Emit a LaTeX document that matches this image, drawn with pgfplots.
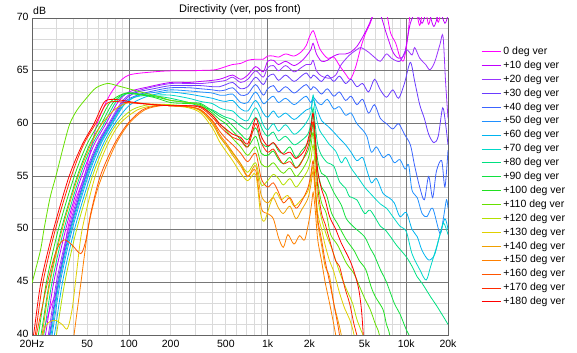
\documentclass[border=0pt]{standalone}
\usepackage{fontspec}
\setmainfont{Liberation Sans}
\usepackage{pgfplots}
\pgfplotsset{compat=1.18}
\definecolor{c0}{HTML}{FF00FF}
\definecolor{c10}{HTML}{C000FF}
\definecolor{c20}{HTML}{9933FF}
\definecolor{c30}{HTML}{6A3CFF}
\definecolor{c40}{HTML}{3C64FF}
\definecolor{c50}{HTML}{2090FF}
\definecolor{c60}{HTML}{00B4F0}
\definecolor{c70}{HTML}{00D8C8}
\definecolor{c80}{HTML}{00E080}
\definecolor{c90}{HTML}{10E040}
\definecolor{c100}{HTML}{20E020}
\definecolor{c110}{HTML}{66E000}
\definecolor{c120}{HTML}{B4E000}
\definecolor{c130}{HTML}{E0D000}
\definecolor{c140}{HTML}{F0A000}
\definecolor{c150}{HTML}{FF8000}
\definecolor{c160}{HTML}{FF5500}
\definecolor{c170}{HTML}{FF2A00}
\definecolor{c180}{HTML}{FF0000}
\definecolor{gmaj}{HTML}{787878}
\definecolor{gmin}{HTML}{DADADA}
\definecolor{frame}{HTML}{646464}
\begin{document}
\begin{tikzpicture}
\begin{axis}[
  scale only axis, width=416bp, height=317bp,
  xmode=log, xmin=20, xmax=20000, ymin=40, ymax=70,
  xtick={20,50,100,200,500,1000,2000,5000,10000,20000},
  xticklabels={20Hz,50,100,200,500,1k,2k,5k,10k,20k},
  minor xtick={30,40,50,60,70,80,90,200,300,400,500,600,700,800,900,2000,3000,4000,5000,6000,7000,8000,9000},
  xminorgrids=true, xmajorgrids=false,
  extra x ticks={100,1000,10000}, extra x tick labels={},
  extra x tick style={xmajorgrids=true, major tick length=0pt},
  ytick={40,45,50,55,60,65,70},
  minor ytick={41,42,43,44,46,47,48,49,51,52,53,54,56,57,58,59,61,62,63,64,66,67,68,69},
  ymajorgrids=true, yminorgrids=true,
  major grid style={color=gmaj, line width=0.8bp},
  minor grid style={color=gmin, line width=0.8bp},
  major tick length=0pt, minor tick length=0pt,
  axis line style={color=frame, line width=0.8bp},
  tick label style={font=\fontsize{10.5bp}{12bp}\selectfont, text=black},
  xticklabel style={yshift=-1.5bp},
  yticklabel style={yshift=1bp},
  /pgf/number format/assume math mode=true,
  legend cell align=left,
  legend image code/.code={\draw[#1] (0bp,0bp) -- (19bp,0bp);},
  legend style={draw=none, fill=none, at={(1,1)}, anchor=north west, xshift=30bp, yshift=-26.5bp,
    font=\fontsize{10.5bp}{12bp}\selectfont, row sep=3.9bp,
    nodes={inner ysep=0pt, inner xsep=2.5bp, text height=7.8bp, text depth=2.2bp}},
  crv/.style={line width=0.8bp, smooth, tension=0.5},
]
\addplot[c0, crv] coordinates {(20,35.5) (23.8,40) (27.5,42.8) (31.4,45) (36.1,50) (41,52.7) (47.6,55) (53,57.5) (59,60) (70,62.3) (82,63.7) (100,64.6) (150,64.9) (200,65.0) (270,65.0) (350,65.05) (420,65.1) (500,65.4) (560,65.6) (640,65.7) (720,66.0) (820,66.1) (930,66.1) (1000,66.4) (1100,66.4) (1200,66.3) (1350,66.6) (1550,66.4) (1750,66.8) (1900,67.4) (2000,68.2) (2130,68.8) (2250,68.0) (2400,67.0) (2700,66.2) (3000,66.3) (3300,65.5) (3650,64.7) (3950,64.2) (4300,65.3) (4700,67.2) (5100,68.6) (5500,69.5) (6000,71) (6500,72) (7200,70.5) (7700,68.6) (8400,67.6) (9000,66.3) (9600,66.0) (10200,68) (10700,70.5) (11500,71.5) (12500,69.3) (13500,71.5) (14500,69.4) (15800,71.5) (17000,69.6) (18500,71.5) (20000,70.5)};
\addplot[c10, crv] coordinates {(21.7,36) (25,40) (28.7,45) (35,50) (40,52.7) (45.5,55) (56,58) (68.3,60) (83,62.0) (100,63.0) (140,63.5) (200,63.9) (270,63.9) (330,64.0) (400,64.1) (450,64.2) (500,64.4) (560,64.6) (640,64.2) (720,64.6) (820,65.4) (930,64.9) (1000,65.9) (1100,66.0) (1200,65.6) (1350,65.9) (1550,65.5) (1750,65.9) (1900,66.4) (2050,67.0) (2130,67.6) (2250,66.6) (2450,65.9) (2700,66.0) (3000,66.4) (3300,66.6) (3650,66.6) (4000,66.8) (4400,67.3) (4850,68.2) (5350,69.3) (5900,70.5) (6500,70.3) (7200,68.5) (8000,66.8) (8800,66.2) (9700,66.6) (10700,69.5) (11800,70.5) (13000,69.5) (14300,70.8) (15800,69.2) (17400,70.6) (19000,69.5) (20000,70.3)};
\addplot[c20, crv] coordinates {(22.7,36) (26.2,40) (30,45) (36.6,50) (47.6,55) (58.6,58) (71.4,60) (88,62.0) (105,62.9) (140,63.4) (200,63.8) (270,63.8) (330,63.8) (400,63.9) (450,64.0) (500,64.1) (560,64.4) (640,63.9) (720,64.2) (820,65.0) (930,64.4) (1000,65.3) (1100,65.5) (1200,65.0) (1350,65.5) (1550,64.9) (1750,65.3) (1900,65.6) (2050,65.6) (2130,66.0) (2250,65.0) (2450,64.5) (2800,64.3) (3100,64.6) (3400,65.6) (3900,66.5) (4400,67.0) (4700,67.2) (5300,66.8) (6000,66.2) (6500,65.9) (7200,66.6) (7800,66.2) (9000,65.9) (10000,67.0) (11000,66.5) (11500,67.2) (12500,66.2) (13800,65.6) (14800,65.1) (16000,65.8) (17500,67.5) (18400,68.3) (19200,64.0) (20000,60.5)};
\addplot[c30, crv] coordinates {(23.1,36) (26.7,40) (30.6,45) (37.3,50) (48.5,55) (59.7,58) (72.7,60) (90,62.0) (110,62.9) (150,63.3) (200,63.6) (270,63.6) (330,63.6) (400,63.5) (450,63.5) (500,63.7) (560,63.9) (640,63.3) (720,63.5) (820,64.4) (930,63.7) (1000,64.4) (1100,64.7) (1200,64.1) (1350,64.6) (1550,64.0) (1750,64.5) (1900,64.8) (2050,64.3) (2130,64.6) (2250,64.4) (2450,64.0) (2700,64.6) (3000,64.0) (3300,64.5) (3650,63.8) (4000,64.2) (4400,63.5) (4850,63.8) (5350,63.0) (5900,64.2) (6500,63.2) (7200,62.5) (8000,63.2) (8800,62.4) (9700,63.8) (10700,65.8) (11500,64.0) (12500,61.8) (13500,60.5) (14500,59.0) (15800,58.2) (17000,58.8) (18300,61.5) (19200,60.0) (20000,58.0)};
\addplot[c40, crv] coordinates {(23.4,36) (27,40) (31,45) (37.8,50) (49,55) (60.5,58) (73.7,60) (92,62.0) (115,62.7) (150,63.1) (200,63.4) (270,63.4) (330,63.3) (400,63.2) (450,63.1) (500,63.2) (560,63.4) (640,62.7) (720,62.8) (820,63.7) (930,62.7) (1000,63.3) (1100,63.6) (1200,63.0) (1350,63.5) (1550,62.9) (1750,63.4) (1900,63.7) (2050,63.2) (2130,63.5) (2250,63.3) (2450,62.8) (2700,63.3) (3000,62.6) (3300,63.0) (3650,62.2) (4000,62.6) (4400,61.8) (4850,62.3) (5350,61.0) (5900,61.8) (6500,60.5) (7200,60.0) (8000,59.5) (8800,60.0) (9700,59.0) (10700,58.0) (11500,56.0) (12500,54.0) (13500,52.8) (14500,55.0) (15500,53.0) (16500,55.5) (18000,56.5) (19000,54.0) (20000,57.5)};
\addplot[c50, crv] coordinates {(24.2,36) (27.9,40) (32,45) (39,50) (50.7,55) (62.4,58) (76,60) (95,62.0) (120,62.7) (160,63.0) (200,63.2) (270,63.1) (330,63.0) (400,62.9) (450,62.7) (500,62.7) (560,62.8) (640,62.0) (720,62.0) (820,63.0) (930,61.9) (1000,62.2) (1100,62.6) (1200,62.0) (1350,62.4) (1550,61.8) (1750,62.3) (1900,62.6) (2050,62.0) (2130,62.5) (2300,62.0) (2450,61.8) (2700,62.3) (3000,61.4) (3300,61.6) (3650,60.8) (4000,61.0) (4400,60.0) (4850,59.4) (5200,58.8) (5600,57.3) (6100,57.8) (6800,56.8) (7500,57.1) (8200,56.3) (9000,56.6) (9800,55.7) (10400,56.1) (11000,53.7) (12000,53.0) (13000,51.5) (14100,51.2) (15500,52.0) (17500,49.6) (18500,51.0) (19500,52.8) (20000,52.0)};
\addplot[c60, crv] coordinates {(25.1,36) (29,40) (33.2,45) (40.5,50) (52.6,55) (64.8,58) (79,60) (100,61.7) (130,62.5) (170,62.9) (200,63.0) (270,62.8) (330,62.6) (400,62.4) (450,62.2) (500,62.1) (560,62.2) (640,61.4) (720,61.2) (820,62.2) (930,61.0) (1000,60.6) (1100,61.2) (1200,60.6) (1350,61.0) (1550,60.4) (1750,60.9) (1900,61.3) (2050,61.5) (2130,62.3) (2250,61.5) (2450,60.3) (2700,59.8) (3000,59.2) (3300,58.6) (3650,58.0) (4000,57.3) (4400,56.5) (4850,56.8) (5200,55.6) (5600,54.4) (6100,54.8) (6800,53.4) (7500,53.0) (8200,52.5) (9000,51.2) (10000,51.6) (11000,50.0) (12000,49.3) (13000,48.0) (14500,47.1) (16000,47.6) (17500,49.5) (19000,51.0) (20000,50.0)};
\addplot[c70, crv] coordinates {(23.7,36) (27.4,40) (31.4,45) (38.3,50) (49.8,55) (61.3,58) (75,60) (88,61.5) (110,62.5) (150,62.7) (200,62.7) (270,62.4) (330,62.1) (400,61.9) (450,61.5) (500,61.3) (560,61.2) (640,60.5) (720,60.3) (820,61.5) (930,59.9) (1000,59.4) (1100,60.0) (1200,59.3) (1350,59.9) (1550,59.0) (1750,59.5) (1900,60.1) (2050,61.0) (2130,62.7) (2220,61.0) (2350,59.5) (2600,58.6) (2800,58.0) (3100,57.4) (3400,56.3) (3650,56.8) (4000,55.8) (4600,54.7) (5000,54.0) (5500,53.4) (6500,52.4) (7200,52.0) (8000,51.2) (9000,50.3) (10000,49.8) (11000,47.7) (12500,46.2) (13900,45.2) (15000,46.5) (16600,48.4) (17500,49.5) (18600,50.6) (20000,49.5)};
\addplot[c80, crv] coordinates {(21.1,36) (24.3,40) (27.9,45) (34,50) (44.2,55) (54.4,58) (66.3,60) (80,62.0) (95,62.8) (120,62.8) (160,62.6) (200,62.4) (270,62.0) (330,61.6) (400,61.3) (450,60.9) (500,60.6) (560,60.4) (640,59.8) (720,59.5) (820,60.6) (930,59.3) (1000,58.8) (1100,59.2) (1200,58.4) (1350,58.8) (1550,58.0) (1750,58.4) (1950,59.0) (2050,60.0) (2130,61.5) (2200,60.0) (2300,58.0) (2450,57.0) (2700,56.3) (3000,56.0) (3300,54.5) (3650,53.9) (3900,53.1) (4400,52.8) (5000,51.5) (5500,51.8) (6500,50.3) (7000,50.0) (7800,49.2) (8500,48.5) (10000,47.4) (11000,46.5) (12000,45.5) (13000,44.9) (15000,43.6) (16500,42.8) (18000,42.0) (19000,41.5) (20000,41.0)};
\addplot[c90, crv] coordinates {(20.2,36) (23.2,40) (26.7,45) (32.5,50) (42.3,55) (52,58) (63.4,60) (77,62.0) (95,62.9) (120,62.8) (160,62.5) (200,62.2) (270,62.0) (330,61.9) (400,61.2) (450,60.7) (500,60.4) (560,59.8) (640,59.0) (720,58.5) (820,59.6) (900,58.2) (1000,57.8) (1100,58.2) (1200,57.4) (1300,57.2) (1450,57.8) (1600,56.8) (1750,57.4) (1950,58.2) (2050,59.5) (2130,61.0) (2200,59.0) (2300,56.5) (2450,55.3) (2650,55.0) (3000,53.5) (3400,52.3) (3700,51.0) (4200,50.2) (5000,49.3) (5500,48.2) (5900,47.5) (6500,46.2) (7200,45.0) (8200,43.0) (9000,42.0) (10000,40.5) (10800,39.5) (11500,37)};
\addplot[c100, crv] coordinates {(19.2,36) (22.2,40) (25.4,45) (31,50) (40.3,55) (49.6,58) (60.5,60) (73,62.0) (90,62.8) (110,62.8) (150,62.5) (200,62.0) (270,61.9) (330,61.8) (400,61.0) (450,60.4) (500,60.0) (560,59.3) (640,58.5) (720,57.8) (820,58.8) (900,57.2) (1000,57.0) (1100,57.4) (1200,56.6) (1300,56.2) (1450,56.8) (1600,55.8) (1750,56.4) (1950,57.4) (2050,58.6) (2130,60.0) (2200,58.0) (2300,55.5) (2450,54.0) (2650,53.3) (2900,51.5) (3200,50.5) (3700,49.0) (4200,48.0) (4600,47.0) (5100,46.2) (5600,44.5) (6000,43.6) (6800,42.4) (7200,41.0) (7600,40.0) (8200,37)};
\addplot[c110, crv] coordinates {(20,44.9) (23,48) (24.4,50) (27,53) (29.7,55) (34.1,58.1) (37.5,60) (42.3,61.3) (50,62.5) (58,63.4) (70,63.8) (82,63.6) (100,63.3) (130,62.9) (170,62.5) (200,62.2) (270,62.0) (330,61.7) (400,60.8) (450,60.0) (500,59.4) (560,58.6) (640,57.8) (720,57.0) (820,57.8) (900,56.2) (1000,55.9) (1100,56.3) (1200,55.7) (1300,55.3) (1450,55.8) (1600,55.0) (1750,55.5) (1950,56.6) (2050,57.8) (2130,59.2) (2200,57.0) (2300,54.5) (2450,52.5) (2650,51.5) (2850,49.5) (3200,48.5) (3700,46.8) (4200,45.8) (4600,44.6) (5000,43.5) (5500,42.4) (6000,41.0) (6400,40.0) (6900,37)};
\addplot[c120, crv] coordinates {(27,36) (30,40) (34.5,45) (42,50) (54.5,55) (67,58) (82,60) (105,61.3) (140,61.8) (200,61.8) (270,61.6) (330,61.2) (400,60.0) (450,58.8) (500,58.0) (560,57.2) (640,56.2) (720,55.4) (820,56.3) (900,54.2) (1000,54.6) (1100,55.2) (1200,54.8) (1300,54.2) (1450,54.8) (1600,54.0) (1750,54.6) (1950,55.6) (2050,56.6) (2130,58.0) (2200,56.0) (2300,53.0) (2450,51.0) (2650,49.5) (2900,48.2) (3200,46.5) (3450,45.3) (3800,44.0) (4100,43.0) (4400,41.5) (4700,40.5) (5000,39.5) (5300,37)};
\addplot[c130, crv] coordinates {(20,36) (22,38) (25,40.8) (29,41.4) (33,41.0) (36,40.6) (39,42.5) (42,46) (46,50) (57,55) (70,58) (86,60) (115,61.3) (150,61.7) (200,61.7) (270,61.5) (330,61.0) (400,59.6) (450,58.3) (500,57.4) (560,56.5) (640,55.3) (720,54.6) (820,55.2) (890,51.5) (950,50.8) (1050,52.5) (1150,53.5) (1250,52.8) (1400,53.2) (1550,52.2) (1750,52.8) (1950,53.6) (2050,54.8) (2130,56.0) (2200,54.0) (2300,51.5) (2450,50.0) (2600,48.5) (2800,47.0) (3000,46.0) (3300,44.0) (3600,42.5) (3900,41.5) (4200,40.0) (4500,37)};
\addplot[c140, crv] coordinates {(20.5,36) (23.6,40) (27,45) (33,50) (43,55) (53,58) (64,60) (80,61.4) (100,62.0) (130,61.9) (170,61.8) (200,61.7) (270,61.6) (330,61.2) (400,60.0) (450,58.8) (500,58.0) (560,57.0) (640,56.0) (720,55.0) (820,56.0) (900,53.2) (1000,52.5) (1100,53.0) (1200,52.0) (1300,51.5) (1450,52.2) (1600,51.0) (1750,51.8) (1950,52.9) (2050,54.2) (2130,55.5) (2200,53.5) (2300,50.5) (2450,48.5) (2600,46.5) (2800,45.5) (3000,43.0) (3200,41.5) (3400,40.0) (3700,37)};
\addplot[c150, crv] coordinates {(37,36) (40.2,40) (45.1,45) (50.7,50) (57,53) (64,55) (80,58) (100,60) (130,61.3) (170,61.7) (200,61.7) (270,61.6) (330,61.3) (400,60.2) (450,59.0) (500,58.2) (560,57.3) (640,56.2) (720,55.0) (820,55.6) (900,52.0) (1000,51.5) (1100,51.0) (1200,49.2) (1300,48.3) (1400,49.5) (1550,48.6) (1700,49.4) (1850,49.0) (2000,51.0) (2080,52.5) (2130,53.5) (2200,52.0) (2300,49.0) (2450,47.0) (2600,45.0) (2800,43.0) (3000,41.0) (3200,39.0)};
\addplot[c160, crv] coordinates {(20,38) (21.5,40) (25.9,45) (30,48) (34,49) (39,48.5) (45,47.7) (49,49) (53,51.5) (62,55) (78,58) (98,60) (125,61.3) (160,61.7) (200,61.7) (270,61.6) (330,61.3) (400,60.3) (450,59.3) (500,58.6) (560,58.0) (640,57.2) (720,56.4) (820,57.2) (900,54.8) (1000,54.0) (1100,54.4) (1200,53.5) (1300,52.5) (1450,53.0) (1600,52.0) (1750,52.6) (1950,53.9) (2050,55.2) (2130,56.5) (2200,54.5) (2300,51.0) (2450,49.0) (2600,47.0) (2800,45.0) (3100,42.0) (3300,40.0) (3500,37)};
\addplot[c170, crv] coordinates {(18.5,36) (21.1,40) (24,45) (29.5,50) (38.4,55) (47,58) (57.5,60) (68,61.8) (78,62.1) (95,62.0) (120,61.9) (150,61.8) (200,61.7) (270,61.7) (330,61.5) (400,60.6) (450,59.8) (500,59.2) (560,58.7) (640,58.4) (720,57.8) (820,60.0) (900,58.2) (1000,57.3) (1100,57.6) (1200,56.8) (1300,56.2) (1450,56.4) (1600,55.8) (1750,56.3) (1950,57.8) (2050,59.0) (2130,60.2) (2200,58.0) (2300,54.0) (2450,51.5) (2600,50.5) (2800,49.0) (3100,47.0) (3300,46.5) (3600,44.5) (3900,43.0) (4200,41.0) (4400,40.0) (4700,37)};
\addplot[c180, crv] coordinates {(18,36) (20.5,40) (23.2,45) (28.6,50) (37,55) (46,58) (56,60) (66,62.0) (75,62.3) (90,62.2) (110,62.0) (150,61.8) (200,61.7) (270,61.7) (330,61.6) (400,60.8) (450,60.0) (500,59.5) (560,59.0) (640,58.7) (720,58.1) (820,60.5) (900,58.8) (1000,57.9) (1100,58.2) (1200,57.6) (1300,57.1) (1450,57.3) (1600,56.7) (1850,57.5) (2000,59.0) (2080,60.2) (2130,61.0) (2200,59.0) (2300,55.5) (2450,53.8) (2600,52.8) (2800,51.2) (3100,50.0) (3400,48.7) (4000,46.8) (4500,44.6) (4750,42.4) (4900,40.0) (5100,37)};
\legend{0 deg ver,+10 deg ver,+20 deg ver,+30 deg ver,+40 deg ver,+50 deg ver,+60 deg ver,+70 deg ver,+80 deg ver,+90 deg ver,+100 deg ver,+110 deg ver,+120 deg ver,+130 deg ver,+140 deg ver,+150 deg ver,+160 deg ver,+170 deg ver,+180 deg ver}
\end{axis}
\node[anchor=base, font=\fontsize{11bp}{13bp}\selectfont, inner sep=0pt] at ([yshift=5.5bp]current axis.north) {Directivity (ver, pos front)};
\node[anchor=base west, font=\fontsize{10.5bp}{12bp}\selectfont, inner sep=0pt] at ([xshift=1bp,yshift=3.5bp]current axis.north west) {dB};
\path (current axis.south west) ++(-32bp,-18bp) rectangle ++(577bp,353bp);
\end{tikzpicture}
\end{document}
